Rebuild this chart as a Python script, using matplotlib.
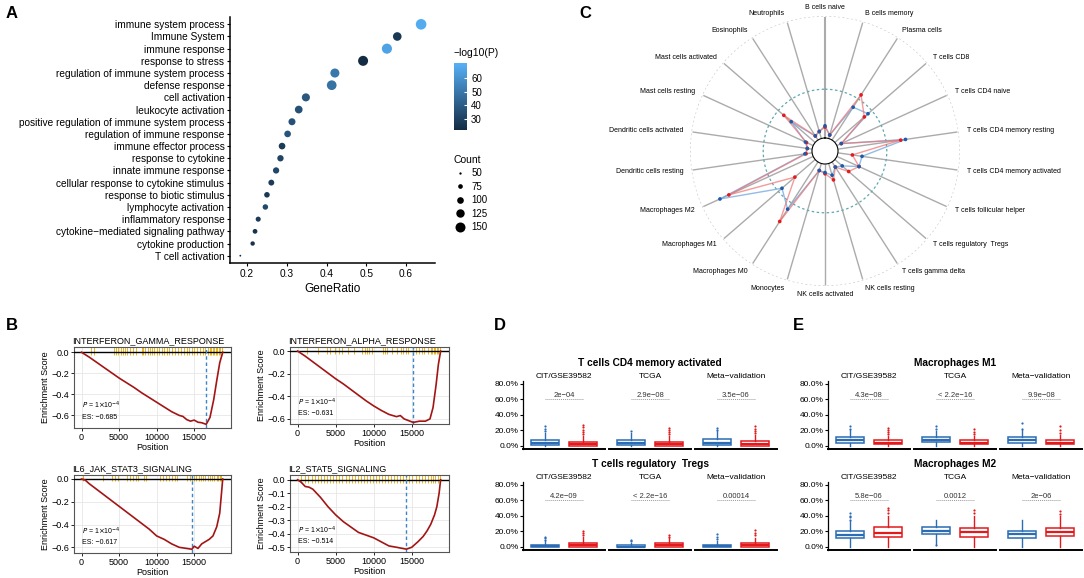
import numpy as np
import matplotlib
matplotlib.use("Agg")
import matplotlib.pyplot as plt
from matplotlib.colors import LinearSegmentedColormap
from matplotlib.lines import Line2D
from matplotlib.patches import Circle

plt.rcParams['font.family'] = ['Liberation Sans', 'DejaVu Sans']
plt.rcParams['axes.unicode_minus'] = True

W, H = 1084, 578

# ---------------- panel A data ----------------
go_terms = ["immune system process", "Immune System", "immune response", "response to stress",
            "regulation of immune system process", "defense response", "cell activation",
            "leukocyte activation", "positive regulation of immune system process",
            "regulation of immune response", "immune effector process", "response to cytokine",
            "innate immune response", "cellular response to cytokine stimulus",
            "response to biotic stimulus", "lymphocyte activation", "inflammatory response",
            "cytokine\u2212mediated signaling pathway", "cytokine production", "T cell activation"]
gene_ratio = [0.638, 0.578, 0.552, 0.492, 0.421, 0.413, 0.348, 0.330, 0.313, 0.302,
              0.288, 0.284, 0.273, 0.261, 0.250, 0.246, 0.228, 0.220, 0.214, 0.183]
neg_log_p = [69, 27, 66, 22, 50, 48, 38, 36, 36, 37, 28, 31, 32, 28, 27, 33, 28, 25, 25, 22]
gene_count = [160, 128, 152, 150, 135, 145, 120, 115, 105, 100, 100, 96, 95, 90, 86, 85, 80, 76, 72, 45]
count_levels = [50, 75, 100, 125, 150]

# ---------------- panel B data ----------------
gsea_titles = ["INTERFERON_GAMMA_RESPONSE", "INTERFERON_ALPHA_RESPONSE",
               "IL6_JAK_STAT3_SIGNALING", "IL2_STAT5_SIGNALING"]
gsea_es = ["\u22120.685", "\u22120.631", "\u22120.617", "\u22120.514"]
gsea_lead = [16600, 15200, 14700, 14300]

ifng_pos = [0, 1000, 2000, 3000, 4000, 5000, 6000, 7000, 8000, 9000, 10000, 11000, 12000,
            13000, 13500, 14000, 14500, 15000, 15500, 16000, 16600, 17100, 17600, 18000, 18400, 18800]
ifng_es = [0, -0.045, -0.095, -0.145, -0.195, -0.245, -0.29, -0.335, -0.385, -0.43, -0.475, -0.52,
           -0.565, -0.6, -0.61, -0.64, -0.655, -0.645, -0.665, -0.67, -0.685, -0.62, -0.45, -0.27, -0.1, 0.0]
ifna_pos = [0, 1000, 2000, 3000, 4000, 5000, 6000, 7000, 8000, 9000, 10000, 11000, 12000, 13000,
            13500, 14000, 15200, 16000, 16800, 17400, 17800, 18200, 18500, 18800]
ifna_es = [0, -0.045, -0.095, -0.145, -0.195, -0.245, -0.29, -0.34, -0.39, -0.44, -0.485, -0.525,
           -0.56, -0.58, -0.57, -0.6, -0.631, -0.62, -0.62, -0.6, -0.5, -0.3, -0.12, 0.0]
il6_pos = [0, 500, 1000, 2000, 3000, 4000, 5000, 6000, 7000, 8000, 9000, 10000, 11000, 12000,
           13000, 14000, 14700, 15000, 15500, 16000, 16500, 17000, 17500, 18000, 18400, 18600, 18800]
il6_es = [0, -0.01, -0.04, -0.09, -0.14, -0.19, -0.24, -0.29, -0.34, -0.39, -0.44, -0.5, -0.53,
          -0.57, -0.6, -0.61, -0.617, -0.59, -0.61, -0.57, -0.55, -0.53, -0.5, -0.42, -0.3, -0.15, 0.0]
il2_pos = [0, 500, 1000, 1500, 2000, 3000, 4000, 5000, 6000, 7000, 8000, 9000, 10000, 11000,
           12000, 13000, 14300, 15000, 15800, 16500, 17000, 17500, 18000, 18300, 18600, 18800]
il2_es = [0, -0.02, -0.05, -0.055, -0.07, -0.13, -0.2, -0.26, -0.31, -0.35, -0.39, -0.41, -0.43,
          -0.46, -0.49, -0.5, -0.514, -0.5, -0.46, -0.42, -0.38, -0.33, -0.26, -0.2, -0.1, 0.0]

ifng_hits = [1300, 1600, 4300, 4600, 4900, 5200, 5500, 5800, 6100, 6500, 6900, 7300, 8000, 8200,
             8500, 8800, 9100, 9400, 9700, 10000, 10300, 10700, 11000, 11400, 11700, 12100, 12400,
             12800, 13200, 13600, 14000, 14300, 14700, 15000, 15400, 15800, 16200, 16500, 16800,
             17100, 17300, 17500, 17700, 17900, 18100, 18300, 18500, 18700]
ifna_hits = [1300, 2700, 3900, 4300, 4900, 5400, 5900, 6600, 7400, 8500, 8800, 9100, 9400, 9800,
             11200, 11500, 11800, 12400, 13000, 13600, 13900, 14200, 14500, 15200, 15500, 16000,
             16300, 16600, 17200, 17500, 17700, 17900, 18100, 18300, 18500, 18700]
il6_hits = [200, 2800, 4100, 4500, 4800, 6000, 6400, 6800, 7200, 7500, 8300, 8600, 10400, 10800,
            11200, 11600, 12000, 12400, 12700, 14000, 14400, 14700, 15000, 15300, 15600, 15900,
            16200, 16500, 16800, 17100, 17400, 17700, 18000, 18200, 18400, 18600]
il2_hits = [500, 1000, 1400, 1900, 2300, 2700, 3100, 3500, 3900, 4300, 4700, 5100, 5500, 5900,
            6300, 6700, 7100, 7500, 7900, 8300, 8700, 9100, 9500, 9900, 10300, 10700, 11100, 11500,
            11900, 12300, 12700, 13100, 13500, 13900, 14300, 14700, 15100, 15500, 15900, 16300,
            16700, 17100, 17500, 17800, 18100, 18400, 18700]

# ---------------- panel C data ----------------
cell_types = ["B cells naive", "B cells memory", "Plasma cells", "T cells CD8", "T cells CD4 naive",
              "T cells CD4 memory resting", "T cells CD4 memory activated", "T cells follicular helper",
              "T cells regulatory  Tregs", "T cells gamma delta", "NK cells resting", "NK cells activated",
              "Monocytes", "Macrophages M0", "Macrophages M1", "Macrophages M2", "Dendritic cells resting",
              "Dendritic cells activated", "Mast cells resting", "Mast cells activated", "Eosinophils",
              "Neutrophils"]
frac_red = [0.045, 0.015, 0.22, 0.16, 0.02, 0.26, 0.06, 0.10, 0.075, 0.025, 0.07, 0.04, 0.03,
            0.29, 0.11, 0.38, 0.025, 0.02, 0.03, 0.17, 0.02, 0.03]
frac_blue = [0.05, 0.015, 0.16, 0.18, 0.02, 0.28, 0.10, 0.10, 0.04, 0.025, 0.05, 0.035, 0.03,
             0.23, 0.18, 0.42, 0.03, 0.02, 0.035, 0.13, 0.02, 0.03]

# ---------------- panels D / E data ----------------
cohorts = ["CIT/GSE39582", "TCGA", "Meta\u2212validation"]
# (whislo, q1, median, q3, whishi), outliers ; [blue, red] per cohort
cd4act_box = [[(0, 0.01, 0.04, 0.08, 0.17), (0, 0.005, 0.02, 0.055, 0.13)],
              [(0, 0.01, 0.04, 0.075, 0.16), (0, 0.005, 0.02, 0.055, 0.13)],
              [(0, 0.01, 0.04, 0.09, 0.19), (0, 0.005, 0.025, 0.06, 0.14)]]
cd4act_out = [[[0.19, 0.22, 0.25], [0.15, 0.18, 0.21, 0.24, 0.27]],
              [[0.19], [0.15, 0.18, 0.21, 0.23]],
              [[0.21, 0.23], [0.16, 0.19, 0.22, 0.25]]]
cd4act_p = ["2e\u221204", "2.9e\u221208", "3.5e\u221206"]
treg_box = [[(0, 0.002, 0.01, 0.03, 0.07), (0, 0.005, 0.02, 0.055, 0.13)],
            [(0, 0.001, 0.005, 0.02, 0.05), (0, 0.005, 0.02, 0.05, 0.11)],
            [(0, 0.002, 0.01, 0.03, 0.07), (0, 0.005, 0.02, 0.05, 0.12)]]
treg_out = [[[0.09, 0.11, 0.13], [0.15, 0.18, 0.21]],
            [[0.07, 0.09], [0.13, 0.15]],
            [[0.1, 0.13, 0.16], [0.15, 0.18, 0.22]]]
treg_p = ["4.2e\u221209", "< 2.2e\u221216", "0.00014"]
m1_box = [[(0, 0.04, 0.07, 0.11, 0.2), (0, 0.02, 0.04, 0.07, 0.13)],
          [(0, 0.05, 0.08, 0.11, 0.19), (0, 0.02, 0.04, 0.07, 0.13)],
          [(0, 0.04, 0.07, 0.11, 0.2), (0, 0.02, 0.04, 0.07, 0.14)]]
m1_out = [[[0.22, 0.25], [0.15, 0.18, 0.21, 0.23]],
          [[0.22, 0.25], [0.15, 0.18, 0.22]],
          [[0.22, 0.29], [0.16, 0.2, 0.25]]]
m1_p = ["4.3e\u221208", "< 2.2e\u221216", "9.9e\u221208"]
m2_box = [[(0, 0.11, 0.155, 0.21, 0.33), (0, 0.13, 0.18, 0.25, 0.4)],
          [(0.04, 0.16, 0.2, 0.25, 0.35), (0, 0.13, 0.19, 0.24, 0.4)],
          [(0, 0.11, 0.16, 0.21, 0.35), (0, 0.14, 0.19, 0.24, 0.4)]]
m2_out = [[[0.35, 0.38, 0.4, 0.43], [0.43, 0.47, 0.5]],
          [[0.02], [0.43, 0.47]],
          [[], [0.42, 0.46]]]
m2_p = ["5.8e\u221206", "0.0012", "2e\u221206"]


def px(l, t, r, b):
    return [l / W, 1 - b / H, (r - l) / W, (b - t) / H]


fig = plt.figure(figsize=(W / 100, H / 100), dpi=100)

# ================= A: GO dot plot =================
cmap = LinearSegmentedColormap.from_list("gg", ["#132B43", "#56B1F7"])


def dot_d(c):
    # dot diameter in px (ggplot-like area scale)
    return 2.3 + 7.7 * (np.sqrt(c) - np.sqrt(50)) / (np.sqrt(150) - np.sqrt(50))


axA = fig.add_axes(px(230, 17, 435, 263))
ypos = np.arange(1, len(go_terms) + 1)
sizes = [(max(dot_d(c), 1.8) * 0.72) ** 2 for c in gene_count]
sc = axA.scatter(gene_ratio, ypos, s=sizes, c=neg_log_p, cmap=cmap, vmin=22, vmax=71,
                 edgecolors='none', zorder=3)
axA.set_ylim(20.6, 0.4)
axA.set_xlim(0.157, 0.673)
axA.set_yticks(ypos)
axA.set_yticklabels(go_terms, fontsize=7.3)
axA.set_xticks([0.2, 0.3, 0.4, 0.5, 0.6])
axA.set_xticklabels(["0.2", "0.3", "0.4", "0.5", "0.6"], fontsize=7.3)
axA.set_xlabel("GeneRatio", fontsize=8.5, labelpad=3)
for s in ['top', 'right']:
    axA.spines[s].set_visible(False)
for s in ['left', 'bottom']:
    axA.spines[s].set_linewidth(1.1)
axA.tick_params(length=2.5, width=0.8, pad=1.5)

cax = fig.add_axes(px(454, 63, 467, 130))
cb = fig.colorbar(sc, cax=cax, ticks=[30, 40, 50, 60])
cb.outline.set_visible(False)
cax.tick_params(labelsize=7, length=2.5, color='white', direction='in', pad=3)
cax.set_title("\u2212log10(P)", fontsize=7.5, loc='left', pad=5)

handles = [Line2D([], [], marker='o', ls='', color='black', markeredgewidth=0,
                  markersize=dot_d(c) * 0.72) for c in count_levels]
fig.legend(handles, [str(c) for c in count_levels], title="Count", loc='upper left',
           bbox_to_anchor=(450 / W, 1 - 151 / H), frameon=False, fontsize=7,
           title_fontsize=7.5, labelspacing=0.36, handletextpad=0.6, handlelength=1.2,
           borderaxespad=0, alignment='left')

# ================= B: GSEA =================
gsea_boxes = [px(74, 347, 231, 428), px(290, 347, 449, 424), px(74, 475, 231, 553), px(290, 475, 449, 552)]
gsea_pos = [ifng_pos, ifna_pos, il6_pos, il2_pos]
gsea_val = [ifng_es, ifna_es, il6_es, il2_es]
gsea_hits = [ifng_hits, ifna_hits, il6_hits, il2_hits]
gsea_ylim = [(-0.72, 0.05), (-0.645, 0.036), (-0.65, 0.035), (-0.535, 0.035)]
gsea_yticks = [[0, -0.2, -0.4, -0.6], [0, -0.2, -0.4, -0.6], [0, -0.2, -0.4, -0.6],
               [0, -0.1, -0.2, -0.3, -0.4, -0.5]]

for i in range(4):
    ax = fig.add_axes(gsea_boxes[i])
    lo, hi = gsea_ylim[i]
    ax.set_xlim(-1000, 19900)
    ax.set_ylim(lo, hi)
    ax.grid(color='#E6E6E6', lw=0.6)
    ax.set_axisbelow(True)
    ax.vlines(gsea_hits[i], -0.022, hi * 0.95, color='#E8B420', lw=0.7, zorder=2)
    ax.axhline(0, color='black', lw=1.0, zorder=3)
    ax.axvline(gsea_lead[i], color='#3A86C8', lw=1.0, ls=(0, (2.5, 2)), zorder=3)
    ax.plot(gsea_pos[i], gsea_val[i], color='#A31515', lw=1.2, zorder=4)
    ax.set_xticks([0, 5000, 10000, 15000])
    ax.set_yticks(gsea_yticks[i])
    ax.set_yticklabels([f"{v:.1f}".replace("-", "\u2212") for v in gsea_yticks[i]])
    ax.tick_params(labelsize=6.5, length=2, width=0.6, pad=1.5)
    ax.set_xlabel("Position", fontsize=6.5, labelpad=0.5)
    ax.set_ylabel("Enrichment Score", fontsize=6.5, labelpad=1)
    ax.set_title(gsea_titles[i], fontsize=6.5, loc='left', pad=3, x=-0.01)
    for s in ax.spines.values():
        s.set_color('#555555')
        s.set_linewidth(0.8)
    ax.text(0, lo + (hi - lo) * 0.28, r"$P$ = 1$\times$10$^{-4}$", fontsize=5, va='center',
            ha='left', zorder=5)
    ax.text(0, lo + (hi - lo) * 0.13, "ES: " + gsea_es[i], fontsize=5, va='center', ha='left', zorder=5)

# ================= C: radar =================
axC = fig.add_axes(px(690, 16, 960, 286), projection='polar')
axC.set_theta_zero_location('N')
axC.set_theta_direction(-1)
axC.set_rorigin(-0.0533)
axC.set_ylim(0, 0.5)
axC.patch.set_visible(False)
n = len(cell_types)
theta = np.arange(n) * 2 * np.pi / n
for k, t in enumerate(theta):
    axC.plot([t, t], [0.0, 0.495], color='#ABABAB', lw=1.5 if k == 0 else 1.0, zorder=1,
             solid_capstyle='butt')
tt = np.linspace(0, 2 * np.pi, 400)
axC.plot(tt, np.full_like(tt, 0.5), color='#C8C8C8', lw=0.9, ls=(0, (1.5, 2)), zorder=1)
axC.plot(tt, np.full_like(tt, 0.2), color='#5FA8AE', lw=0.9, ls=(0, (2, 2)), zorder=1)
th_c = np.append(theta, theta[0])
axC.plot(th_c, np.append(frac_blue, frac_blue[0]), color='#6FA6DC', lw=1.0, alpha=0.75, zorder=2)
axC.plot(th_c, np.append(frac_red, frac_red[0]), color='#F07070', lw=1.0, alpha=0.7, zorder=2)
axC.scatter(theta, frac_red, s=7, color='#E41A1C', zorder=3, edgecolors='none')
axC.scatter(theta, frac_blue, s=7, color='#1F5AA8', zorder=3, edgecolors='none')
axC.add_patch(Circle((0.5, 0.5), 12.5 / 270, transform=axC.transAxes, facecolor='white',
                     edgecolor='none', zorder=6))
axC.set_xticks([])
axC.set_yticks([])
axC.grid(False)
for s in axC.spines.values():
    s.set_visible(False)
for t, name in zip(theta, cell_types):
    sn = np.sin(t)
    ha = 'left' if sn > 0.05 else ('right' if sn < -0.05 else 'center')
    axC.text(t, 0.533, name, fontsize=5, ha=ha, va='center', clip_on=False)

# ================= D / E: boxplots =================
blue_c, red_c = '#2B6CB5', '#E3191C'
facets_D = [(523, 605), (609, 691), (695, 777)]
facets_E = [(828, 910), (914, 996), (1000, 1082)]
rows = [(381, 449), (482, 550)]
panels = [("T cells CD4 memory activated", cd4act_box, cd4act_out, cd4act_p, facets_D, 0),
          ("T cells regulatory  Tregs", treg_box, treg_out, treg_p, facets_D, 1),
          ("Macrophages M1", m1_box, m1_out, m1_p, facets_E, 0),
          ("Macrophages M2", m2_box, m2_out, m2_p, facets_E, 1)]

for title, boxes, outs, pvals, facets, r in panels:
    top, bot = rows[r]
    for j, (l, rr) in enumerate(facets):
        ax = fig.add_axes(px(l, top, rr, bot))
        stats = []
        for g in range(2):
            wl, q1, md, q3, wh = boxes[j][g]
            stats.append(dict(whislo=wl, q1=q1, med=md, q3=q3, whishi=wh, fliers=outs[j][g]))
        bp = ax.bxp(stats, positions=[1, 2], widths=0.75, patch_artist=True, showcaps=False,
                    flierprops=dict(marker='o', markersize=1.6, markeredgewidth=0))
        for g, col in enumerate([blue_c, red_c]):
            bp['boxes'][g].set(facecolor='#FFFFFF', edgecolor=col, linewidth=1.1)
            bp['medians'][g].set(color=col, linewidth=1.6)
            for w in bp['whiskers'][2 * g:2 * g + 2]:
                w.set(color=col, linewidth=1.0)
            bp['fliers'][g].set(markerfacecolor=col, color=col)
        ax.set_xlim(0.4, 2.6)
        ax.set_ylim(-0.04, 0.835)
        ax.plot([1, 2], [0.6, 0.6], color='#999999', lw=0.7, ls=(0, (1, 1)))
        ax.text(1.5, 0.605, pvals[j], ha='center', va='bottom', fontsize=5.5, color='#333333')
        ax.set_title(cohorts[j], fontsize=6, pad=2)
        ax.set_xticks([])
        for s in ['top', 'right']:
            ax.spines[s].set_visible(False)
        ax.spines['bottom'].set_linewidth(1.4)
        if j == 0:
            ax.set_yticks([0, 0.2, 0.4, 0.6, 0.8])
            ax.set_yticklabels(["0.0%", "20.0%", "40.0%", "60.0%", "80.0%"])
            ax.tick_params(axis='y', labelsize=6, length=2, width=0.8, pad=1)
            ax.spines['left'].set_linewidth(0.9)
        else:
            ax.set_yticks([])
            ax.spines['left'].set_visible(False)
    cx = (facets[0][0] + facets[-1][1]) / 2
    fig.text(cx / W, 1 - (top - 18) / H, title, ha='center', va='center', fontsize=7.3, fontweight='bold')

# ================= panel letters =================
for lab, x, y in [("A", 12, 14), ("B", 12, 325), ("C", 585, 13), ("D", 500, 325), ("E", 798, 325)]:
    fig.text(x / W, 1 - y / H, lab, fontsize=12, fontweight='bold', ha='center', va='center')

fig.savefig("out.png", dpi=100)
